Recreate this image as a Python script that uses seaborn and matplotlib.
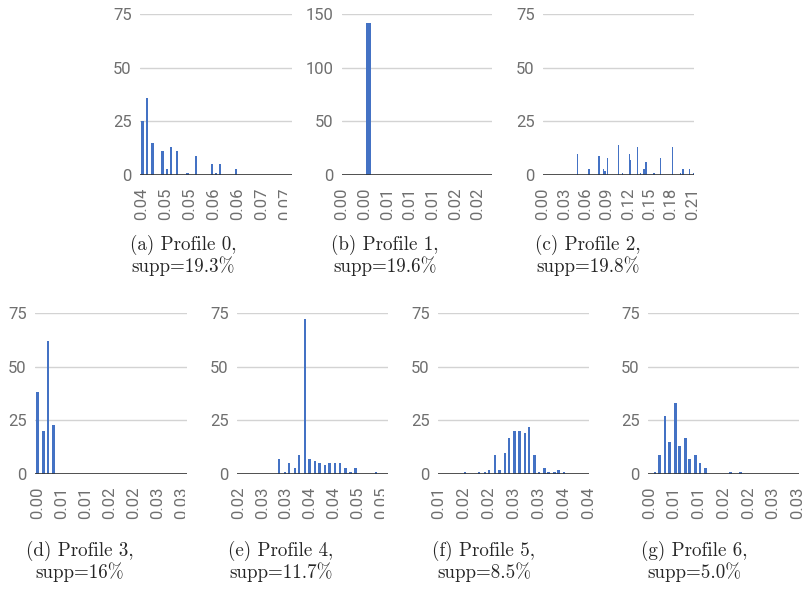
import numpy as np
import pandas as pd
import matplotlib
matplotlib.use("Agg")
import matplotlib.pyplot as plt
from matplotlib.patches import Rectangle
import seaborn as sns

sns.set_theme(style="white")
plt.rcParams["font.family"] = ["Roboto", "DejaVu Sans"]

BLUE = "#4472c4"
GRID = "#d3d3d3"
TICK = "#6f6f6f"
W, H = 806, 589

# ---- data: bucket position, count ----
a_x = [0.0401, 0.0411, 0.0424, 0.0447, 0.0457, 0.0467, 0.0480, 0.0504, 0.0523,
       0.0560, 0.0570, 0.0579, 0.0616]
a_n = [25, 36, 15, 11, 3, 13, 11, 1, 9, 5, 1, 5, 3]
a_ticks = [0.040, 0.0455, 0.051, 0.0565, 0.062, 0.0675, 0.073]
a_labels = ["0.04", "0.05", "0.05", "0.06", "0.06", "0.07", "0.07"]

b_x = [0.0041]
b_n = [142]
b_ticks = [0.0, 0.0035, 0.007, 0.0105, 0.014, 0.0175, 0.021]
b_labels = ["0.00", "0.00", "0.01", "0.01", "0.01", "0.02", "0.02"]

c_x = [0.0484, 0.0648, 0.0788, 0.0848, 0.0872, 0.0910, 0.1068, 0.1115, 0.1212,
       0.1232, 0.1330, 0.1372, 0.1422, 0.1450, 0.1562, 0.1656, 0.1820, 0.1932,
       0.1964, 0.1982, 0.2058, 0.2118]
c_n = [10, 3, 9, 3, 2, 8, 14, 1, 10, 7, 13, 1, 3, 6, 1, 8, 13, 1, 3, 3, 3, 1]
c_ticks = [0.0, 0.03, 0.06, 0.09, 0.12, 0.15, 0.18, 0.21]
c_labels = ["0.00", "0.03", "0.06", "0.09", "0.12", "0.15", "0.18", "0.21"]

d_x = [0.0001, 0.00137, 0.00244, 0.00375]
d_n = [38, 20, 62, 23]
d_ticks = [0.0, 0.0055, 0.011, 0.0165, 0.022, 0.0275, 0.033]
d_labels = ["0.00", "0.01", "0.01", "0.02", "0.02", "0.03", "0.03"]

e_x = [0.0294, 0.0308, 0.0317, 0.0330, 0.0340, 0.0354, 0.0364, 0.0377, 0.0387,
       0.0400, 0.0410, 0.0422, 0.0434, 0.0447, 0.0458, 0.0470, 0.0517]
e_n = [7, 1, 5, 3, 9, 72, 7, 6, 5, 4, 5, 5, 5, 3, 1, 3, 1]
e_ticks = [0.020, 0.0255, 0.031, 0.0365, 0.042, 0.0475, 0.053]
e_labels = ["0.02", "0.03", "0.03", "0.04", "0.04", "0.05", "0.05"]

f_x = [0.0154, 0.0182, 0.0193, 0.0202, 0.0213, 0.0222, 0.0233, 0.0241, 0.0252,
       0.0262, 0.0273, 0.0281, 0.0292, 0.0301, 0.0312, 0.0320, 0.0332, 0.0340,
       0.0351]
f_n = [1, 1, 1, 2, 9, 2, 10, 17, 20, 20, 19, 22, 9, 1, 3, 1, 1, 2, 1]
f_ticks = [0.010, 0.015, 0.020, 0.025, 0.030, 0.035, 0.040]
f_labels = ["0.01", "0.02", "0.02", "0.03", "0.03", "0.04", "0.04"]

g_x = [0.00115, 0.00202, 0.00317, 0.00404, 0.00526, 0.00615, 0.00728, 0.00817,
       0.00938, 0.01025, 0.01140, 0.01638, 0.01840]
g_n = [1, 9, 27, 15, 33, 13, 17, 7, 9, 5, 3, 1, 1]
g_ticks = [0.0, 0.005, 0.010, 0.015, 0.020, 0.025, 0.030]
g_labels = ["0.00", "0.01", "0.01", "0.02", "0.02", "0.03", "0.03"]

captions = [("(a) Profile 0,", "supp=19.3%"), ("(b) Profile 1,", "supp=19.6%"),
            ("(c) Profile 2,", "supp=19.8%"), ("(d) Profile 3,", "supp=16%"),
            ("(e) Profile 4,", "supp=11.7%"), ("(f) Profile 5,", "supp=8.5%"),
            ("(g) Profile 6,", "supp=5.0%")]

# layout (pixels): plot box, x limits, bar width, label cut-off edge, caption centre
panels = [
    dict(x=a_x, n=a_n, ticks=a_ticks, labels=a_labels, ymax=75,
         xlim=(0.03954, 0.07435), w=0.00053, box=(140, 14, 292, 175), clip=287, cap=(183, 245)),
    dict(x=b_x, n=b_n, ticks=b_ticks, labels=b_labels, ymax=150,
         xlim=(0.0, 0.0232), w=0.00072, box=(342, 14, 492, 175), clip=None, cap=(385, 245)),
    dict(x=c_x, n=c_n, ticks=c_ticks, labels=c_labels, ymax=75,
         xlim=(0.0, 0.2125), w=0.0016, box=(543, 14, 694, 175), clip=None, cap=(588, 245)),
    dict(x=d_x, n=d_n, ticks=d_ticks, labels=d_labels, ymax=75,
         xlim=(-0.00053, 0.03421), w=0.00062, box=(35, 313, 187, 474), clip=185, cap=(80, 551)),
    dict(x=e_x, n=e_n, ticks=e_ticks, labels=e_labels, ymax=75,
         xlim=(0.0197, 0.05445), w=0.00053, box=(237, 313, 388, 474), clip=384, cap=(281, 551)),
    dict(x=f_x, n=f_n, ticks=f_ticks, labels=f_labels, ymax=75,
         xlim=(0.00994, 0.0401), w=0.00045, box=(438, 313, 589, 474), clip=None, cap=(484, 551)),
    dict(x=g_x, n=g_n, ticks=g_ticks, labels=g_labels, ymax=75,
         xlim=(-0.00026, 0.03027), w=0.00055, box=(648, 313, 799, 474), clip=None, cap=(694, 551)),
]


def draw_panel(fig, p):
    x0, y0, x1, y1 = p["box"]
    ax = fig.add_axes([x0 / W, 1 - y1 / H, (x1 - x0) / W, (y1 - y0) / H])
    df = pd.DataFrame({"value": p["x"], "count": p["n"]})
    xs = np.unique(df["value"])
    unit = np.diff(xs).min() if len(xs) > 1 else 1.0
    sns.barplot(data=df, x="value", y="count", native_scale=True, orient="x",
                width=p["w"] / unit, color=BLUE, saturation=1, errorbar=None,
                linewidth=0, ax=ax)
    ax.set(xlabel="", ylabel="")
    ax.set_xlim(p["xlim"])
    ax.set_ylim(0, p["ymax"])
    ax.set_xticks(p["ticks"], p["labels"], rotation=90)
    yt = np.linspace(0, p["ymax"], 4)
    ax.set_yticks(yt, [str(int(v)) for v in yt])
    ax.tick_params(length=0, labelsize=12, labelcolor=TICK)
    ax.tick_params(axis="x", pad=9)
    ax.tick_params(axis="y", pad=6)
    ax.grid(axis="y", color=GRID, lw=1)
    ax.grid(axis="x", visible=False)
    ax.set_axisbelow(True)
    for s in ax.spines.values():
        s.set_visible(False)
    ax.axhline(0, color="#333333", lw=1.2, zorder=3)
    if p["clip"] is not None:
        # the last tick label is cut off at the chart's right edge
        c = p["clip"]
        fig.add_artist(Rectangle((c / W, 1 - (y1 + 55) / H), 10 / W, 52 / H,
                                 transform=fig.transFigure, facecolor="white",
                                 edgecolor="none", zorder=5))
    return ax


fig = plt.figure(figsize=(W / 100, H / 100), dpi=100)
for p, (l1, l2) in zip(panels, captions):
    draw_panel(fig, p)
    cx, cy = p["cap"]
    fig.text(cx / W, 1 - cy / H, l1, ha="center", va="center", family="cmr10", fontsize=13.7)
    fig.text(cx / W, 1 - (cy + 21) / H, l2, ha="center", va="center", family="cmr10", fontsize=13.7)

fig.savefig("out.png", dpi=100)
